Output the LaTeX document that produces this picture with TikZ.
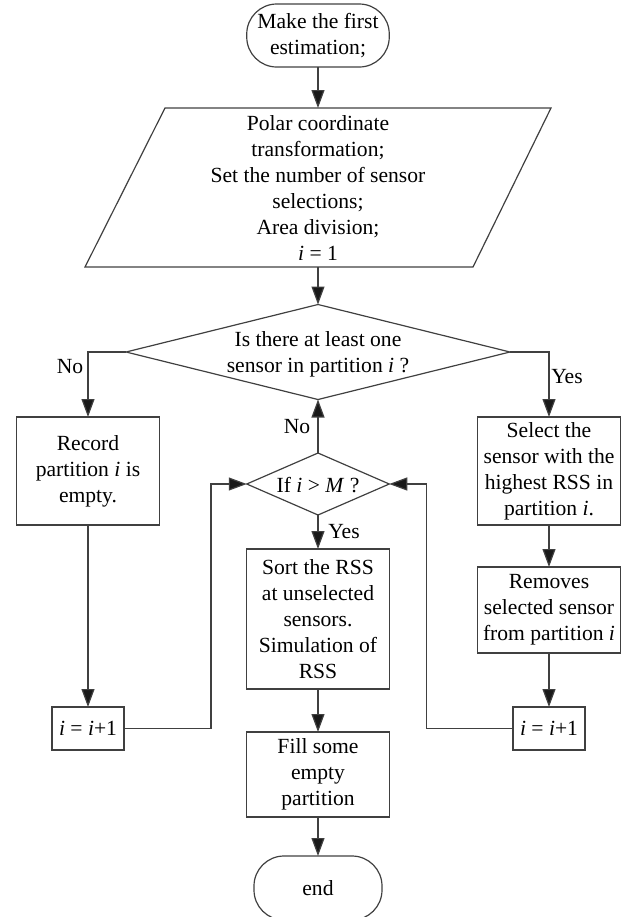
\documentclass[tikz,border=0pt]{standalone}
\usepackage{fontspec}
\setmainfont{Liberation Serif}
\usetikzlibrary{shapes.geometric,arrows.meta}
\begin{document}
\begin{tikzpicture}[x=0.5pt,y=-0.5pt,
  fnt/.style={font=\fontsize{10.8}{13}\selectfont},
  line/.style={draw=black!75, line width=0.6pt},
  arr/.style={line, -{Triangle[length=9pt,width=6.5pt,fill=black!90]}},
  box/.style={line, rectangle, align=center, inner sep=0pt, outer sep=0pt, fnt},
  term/.style={box, rounded corners=15pt},
  dia/.style={line, diamond, inner sep=0pt, outer sep=0pt},
  txt/.style={align=center, inner sep=0pt, fnt},
  lab/.style={inner sep=0pt, fnt}]
\useasboundingbox (0,0) rectangle (626,917);
% start
\node[term, minimum width=71.25pt, minimum height=31.5pt] (start) at (318,35.5) {Make the first\\estimation;};
% parallelogram
\coordinate (ptl) at (165,108);
\coordinate (ptr) at (551,108);
\coordinate (pbr) at (473,267);
\coordinate (pbl) at (85,267);
\coordinate (ptop) at (318,108);
\coordinate (pbot) at (318,267);
\draw[line] (ptl) -- (ptr) -- (pbr) -- (pbl) -- cycle;
\node[txt] (para) at (318,188) {Polar coordinate\\transformation;\\Set the number of sensor\\selections;\\Area division;\\\textit{i} = 1};
% diamond 1
\node[dia, minimum width=192pt, minimum height=47.5pt] (d1) at (318,352) {};
\node[txt] (d1t) at (318,354) {Is there at least one\\sensor in partition \textit{i} ?};
% left column
\node[box, minimum width=71.75pt, minimum height=54pt] (rec) at (88,471) {Record\\partition \textit{i} is\\empty.};
\node[box, minimum width=36pt, minimum height=21.5pt] (incl) at (88,728.5) {\textit{i} = \textit{i}+1};
% right column
\node[box, minimum width=71.75pt, minimum height=54pt] (sel) at (549,471) {Select the\\sensor with the\\highest RSS in\\partition \textit{i}.};
\node[box, minimum width=71.75pt, minimum height=43pt] (rem) at (549,610) {Removes\\selected sensor\\from partition \textit{i}};
\node[box, minimum width=36pt, minimum height=21.5pt] (incr) at (549,728.5) {\textit{i} = \textit{i}+1};
% middle
\node[dia, minimum width=71.25pt, minimum height=31pt] (d2) at (318,484) {};
\node[txt] (d2t) at (318,485) {If \textit{i} > \textit{M} ?};
\node[box, minimum width=71.25pt, minimum height=70pt] (sort) at (318,619) {Sort the RSS\\at unselected\\sensors.\\Simulation of\\RSS};
\node[box, minimum width=71.25pt, minimum height=42.5pt] (fill) at (318,774.5) {Fill some\\empty\\partition};
\node[term, minimum width=64pt, minimum height=32pt] (end) at (318,888) {end};
% loop corners
\coordinate (lc) at (211,728.5);
\coordinate (rc) at (426.5,728.5);
% connectors
\draw[arr] (start) -- (ptop);
\draw[arr] (pbot) -- (d1.north);
\draw[arr] (d1.west) -| (rec.north);
\draw[arr] (d1.east) -| (sel.north);
\draw[arr] (rec) -- (incl);
\draw[arr] (sel) -- (rem);
\draw[arr] (rem) -- (incr);
\draw[arr] (incl.east) -- (lc) |- (d2.west);
\draw[arr] (incr.west) -- (rc) |- (d2.east);
\draw[arr] (d2.north) -- (d1.south);
\draw[arr] (d2.south) -- (sort.north);
\draw[arr] (sort) -- (fill);
\draw[arr] (fill) -- (end);
% labels
\node[lab] (lno) at (70,367) {No};
\node[lab] (lyes) at (567,377) {Yes};
\node[lab] (mno) at (297,427) {No};
\node[lab] (myes) at (344,532) {Yes};
\end{tikzpicture}
\end{document}
